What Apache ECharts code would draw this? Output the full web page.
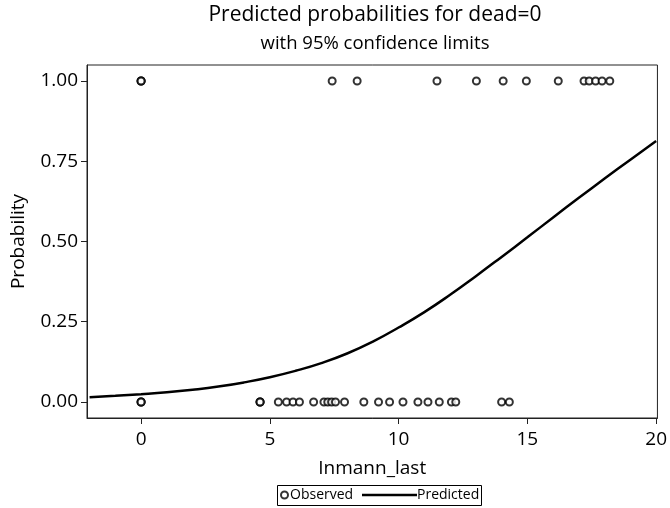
<!DOCTYPE html>
<html>
<head>
<meta charset="utf-8">
<script src="https://cdn.jsdelivr.net/npm/echarts@6/dist/echarts.min.js"></script>
<style>
html,body{margin:0;padding:0;background:#fff;}
#chart{width:670px;height:508px;}
</style>
</head>
<body>
<div id="chart"></div>
<script>
// Observed outcomes (dead=0 -> 1, otherwise 0), by Inmann_last
var observedOneX = [0, 0, 0, 7.42, 8.39, 11.49, 13.02, 14.06, 14.96, 16.2, 17.2, 17.4, 17.65, 17.9, 18.2];
var observedZeroX = [0, 0, 0, 4.62, 4.62, 4.62, 5.33, 5.65, 5.9, 6.15, 6.7, 7.1, 7.25, 7.4, 7.55, 7.9,
                     8.65, 9.22, 9.65, 10.17, 10.75, 11.14, 11.58, 12.05, 12.22, 14.0, 14.3];
// Predicted probability curve
var predX = [-2, -1, 0, 1, 2, 3, 4, 5, 6, 7, 8, 9, 10, 11, 12, 13, 14, 15, 16, 17, 18, 19, 20];
var predP = [0.015, 0.019, 0.024, 0.030, 0.038, 0.048, 0.061, 0.077, 0.097, 0.121, 0.151, 0.188, 0.232,
             0.280, 0.334, 0.392, 0.452, 0.513, 0.575, 0.636, 0.696, 0.755, 0.813];
var xTicks = [0, 5, 10, 15, 20];
var yTicks = [0, 0.25, 0.5, 0.75, 1];

var FONT = '"Open Sans", "Noto Sans", sans-serif';
var obsData = observedOneX.map(function (x) { return [x, 1]; })
  .concat(observedZeroX.map(function (x) { return [x, 0]; }));
var predData = predX.map(function (x, i) { return [x, predP[i]]; });

var chart = echarts.init(document.getElementById('chart'), null, {renderer: 'canvas'});
chart.setOption({
  animation: false,
  backgroundColor: '#fff',
  textStyle: {fontFamily: FONT, color: '#000'},
  title: {
    text: 'Predicted probabilities for dead=0',
    subtext: 'with 95% confidence limits',
    left: 375, top: 5, textAlign: 'center', padding: 0, itemGap: 8,
    textStyle: {fontFamily: FONT, fontSize: 21, fontWeight: 'normal', color: '#000'},
    subtextStyle: {fontFamily: FONT, fontSize: 18.5, color: '#000'}
  },
  grid: {
    left: 87, right: 9, top: 65, bottom: 90,
    show: true, borderColor: '#222', borderWidth: 1, containLabel: false
  },
  xAxis: {
    type: 'value', min: -2.1, max: 20.05,
    name: 'Inmann_last', nameLocation: 'middle', nameGap: 41,
    nameTextStyle: {fontFamily: FONT, fontSize: 19, color: '#000'},
    axisLine: {show: true, onZero: false, lineStyle: {color: '#222', width: 1}},
    axisTick: {show: true, customValues: xTicks, length: 6, lineStyle: {color: '#222'}},
    axisLabel: {customValues: xTicks, margin: 12, fontSize: 19, color: '#000', fontFamily: FONT},
    splitLine: {show: false}
  },
  yAxis: {
    type: 'value', min: -0.05, max: 1.05,
    name: 'Probability', nameLocation: 'middle', nameGap: 59,
    nameTextStyle: {fontFamily: FONT, fontSize: 19, color: '#000'},
    axisLine: {show: true, onZero: false, lineStyle: {color: '#222', width: 1}},
    axisTick: {show: true, customValues: yTicks, length: 6, lineStyle: {color: '#222'}},
    axisLabel: {customValues: yTicks, margin: 9, fontSize: 19, color: '#000', fontFamily: FONT,
      formatter: function (v) { return v.toFixed(2); }},
    splitLine: {show: false}
  },
  legend: [
    {
      data: [{name: 'Observed', icon: 'emptyCircle'}],
      left: 280, top: 488, padding: 0, itemWidth: 7, itemHeight: 7, itemGap: 0,
      textStyle: {fontFamily: FONT, fontSize: 14, color: '#000', padding: [0, 0, 0, -3]}
    },
    {
      data: [{name: 'Predicted', icon: 'rect'}],
      left: 362, top: 488, padding: 0, itemWidth: 55, itemHeight: 2.5, itemGap: 0,
      itemStyle: {color: '#000'},
      textStyle: {fontFamily: FONT, fontSize: 14, color: '#000', padding: [0, 0, 0, -5]}
    }
  ],
  graphic: [{
    type: 'rect', silent: true,
    shape: {x: 277.5, y: 485.5, width: 204, height: 20},
    style: {fill: 'none', stroke: '#000', lineWidth: 1}
  }],
  series: [
    {
      name: 'Observed', type: 'scatter', data: obsData,
      symbol: 'emptyCircle', symbolSize: 7,
      itemStyle: {color: '#000', borderColor: '#000', borderWidth: 1.3},
      z: 3
    },
    {
      name: 'Predicted', type: 'line', data: predData, smooth: true,
      showSymbol: false, symbol: 'none',
      lineStyle: {color: '#000', width: 2.5},
      itemStyle: {color: '#000'},
      z: 4
    }
  ]
});
</script>
</body>
</html>
